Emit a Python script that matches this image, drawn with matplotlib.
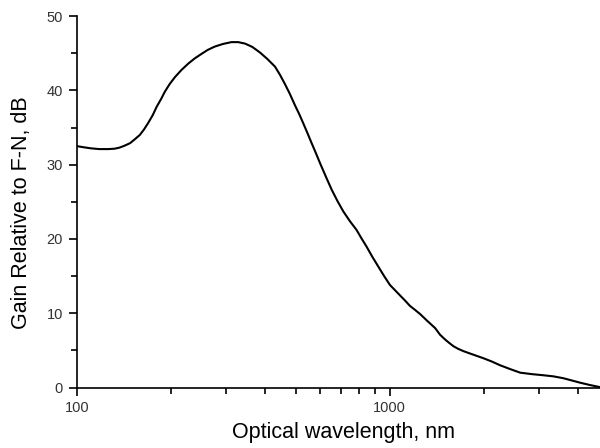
import matplotlib
matplotlib.use('Agg')
import matplotlib.pyplot as plt
import numpy as np
from matplotlib.ticker import LogLocator, FixedLocator, MultipleLocator, NullFormatter

# values
wavelength = [100, 105, 111, 118, 126, 132, 137, 142, 148, 153, 159, 164, 169, 175, 180,
              186, 191, 198, 206, 216, 227, 238, 250, 262, 276, 293, 312, 328,
              345, 364, 385, 406, 430, 446, 462, 480, 498, 514, 529, 546, 563, 581,
              599, 625, 653, 681, 711, 746, 784, 812, 844, 880, 919, 960,
              1002, 1040, 1079, 1120, 1160, 1205, 1250, 1320, 1397, 1449, 1500,
              1550, 1600, 1657, 1720, 1800, 1900, 1991, 2120, 2252, 2420,
              2612, 2850, 3100, 3340, 3590, 3820, 4060, 4350, 4700]
gain = [32.5, 32.35, 32.2, 32.1, 32.1, 32.15, 32.3, 32.55, 32.9, 33.4, 34.0, 34.75, 35.6,
        36.7, 37.8, 38.85, 39.8, 40.85, 41.8, 42.75, 43.6, 44.3, 44.9, 45.45, 45.9, 46.25,
        46.5, 46.5, 46.3, 45.85, 45.1, 44.25, 43.2, 42.1, 40.9, 39.5, 38.0, 36.8, 35.6,
        34.25, 32.9, 31.55, 30.2, 28.4, 26.6, 25.1, 23.7, 22.4, 21.2, 20.1, 18.95, 17.6,
        16.3, 15.0, 13.8, 13.1, 12.4, 11.7, 11.0, 10.45, 9.9, 8.95, 8.0, 7.1, 6.5,
        6.0, 5.55, 5.2, 4.9, 4.6, 4.25, 3.95, 3.5, 3.0, 2.5,
        2.0, 1.8, 1.65, 1.5, 1.25, 0.95, 0.65, 0.35, 0.05]

font = 'Liberation Sans'
fig = plt.figure(figsize=(6, 4.48), dpi=100)
ax = fig.add_axes([0.128, 0.135, 0.872, 0.829])

ax.plot(wavelength, gain, color='black', linewidth=1.5,
        solid_joinstyle='round', solid_capstyle='round')

ax.set_xscale('log')
ax.set_xlim(100, 4700)
ax.set_ylim(0, 50)

ax.spines['top'].set_visible(False)
ax.spines['right'].set_visible(False)
ax.spines['left'].set_linewidth(1.2)
ax.spines['bottom'].set_linewidth(1.2)

ax.xaxis.set_major_locator(FixedLocator([100, 1000]))
ax.xaxis.set_minor_locator(LogLocator(base=10, subs=np.arange(2, 10)))
ax.xaxis.set_minor_formatter(NullFormatter())
ax.set_xticklabels(['100', '1000'])
ax.yaxis.set_major_locator(MultipleLocator(10))
ax.yaxis.set_minor_locator(MultipleLocator(5))

ax.tick_params(which='major', direction='out', length=6, width=1.2, labelsize=10.5,
               labelcolor='#333333', pad=4)
ax.tick_params(which='minor', direction='out', length=4, width=1.2)
for lbl in ax.get_xticklabels() + ax.get_yticklabels():
    lbl.set_family(font)

ax.set_xlabel('Optical wavelength, nm', fontsize=15.5, family=font)
ax.set_ylabel('Gain Relative to F-N, dB', fontsize=15.5, family=font)
ax.xaxis.set_label_coords(0.51, -0.092)
ax.yaxis.set_label_coords(-0.086, 0.472)

plt.savefig('out.png', dpi=100)
